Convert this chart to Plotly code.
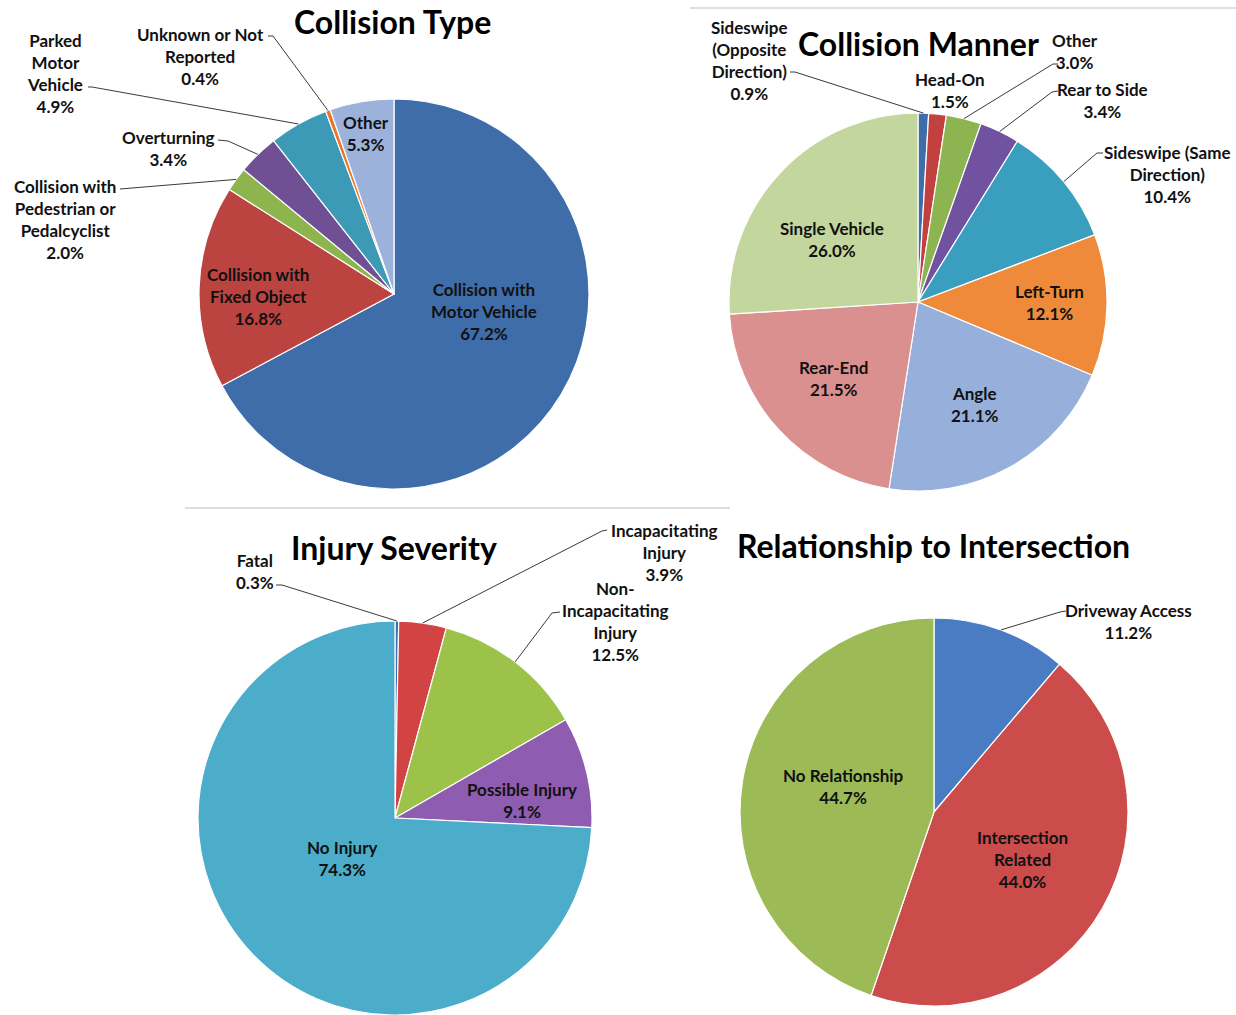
import math
import plotly.graph_objects as go

W, H = 1236, 1015

# ---------------- data ----------------
type_cats = ["Collision with Motor Vehicle", "Collision with Fixed Object",
             "Collision with Pedestrian or Pedalcyclist", "Overturning",
             "Parked Motor Vehicle", "Unknown or Not Reported", "Other"]
type_vals = [67.2, 16.8, 2.0, 3.4, 4.9, 0.4, 5.3]

manner_cats = ["Sideswipe (Opposite Direction)", "Head-On", "Other", "Rear to Side",
               "Sideswipe (Same Direction)", "Left-Turn", "Angle", "Rear-End", "Single Vehicle"]
manner_vals = [0.9, 1.5, 3.0, 3.4, 10.4, 12.1, 21.1, 21.5, 26.0]

injury_cats = ["Fatal", "Incapacitating Injury", "Non-Incapacitating Injury",
               "Possible Injury", "No Injury"]
injury_vals = [0.3, 3.9, 12.5, 9.1, 74.3]

inter_cats = ["Driveway Access", "Intersection Related", "No Relationship"]
inter_vals = [11.2, 44.0, 44.7]

titles = ["Collision Type", "Collision Manner", "Injury Severity", "Relationship to Intersection"]

# ---------------- styling / layout ----------------
FONT = "Lato"
LABEL_SIZE = 17
TITLE_SIZE = 32
colors = [
    ["#3E6DAA", "#BB4340", "#8DB44D", "#6F5095", "#3C9AB6", "#E8782F", "#9DB2DB"],
    ["#3E6DAA", "#C2413F", "#8CB451", "#7052A0", "#3A9EBE", "#EE8A3A", "#96AFDB", "#DB9090", "#C2D69D"],
    ["#3E6DAA", "#D24443", "#9DC24A", "#8E5CB0", "#4BADC9"],
    ["#4A7CC4", "#CB4C4A", "#9CBB57"],
]
# pie geometry in pixels: (cx, cy, r)
geom = [(394, 294, 195), (918, 302, 189), (395, 818, 197), (934, 812, 194)]
title_pos = [(392, 22), (918, 44), (394, 547), (933, 545)]

# label layout per slice: display text, text centre, optional leader points (text side)
label_layout = [
    [
        ("Collision with<br>Motor Vehicle", (484, 311), None),
        ("Collision with<br>Fixed Object", (258, 296), None),
        ("Collision with<br>Pedestrian or<br>Pedalcyclist", (65, 220), [(120, 189)]),
        ("Overturning", (168, 148), [(218, 140), (228, 141)]),
        ("Parked<br>Motor<br>Vehicle", (55, 73), [(88, 87), (92, 87)]),
        ("Unknown or Not<br>Reported", (200, 57), [(268, 36), (273, 36)]),
        ("Other", (366, 133), None),
    ],
    [
        ("Sideswipe<br>(Opposite<br>Direction)", (750, 61), [(790, 72), (795, 72)]),
        ("Head-On", (950, 91), None),
        ("Other", (1075, 51), [(1058, 64), (1053, 64)]),
        ("Rear to Side", (1102, 101), [(1058, 91), (1052, 92)]),
        ("Sideswipe (Same<br>Direction)", (1167, 174), [(1103, 153), (1097, 153)]),
        ("Left-Turn", (1049, 302), None),
        ("Angle", (975, 404), None),
        ("Rear-End", (833, 379), None),
        ("Single Vehicle", (832, 240), None),
    ],
    [
        ("Fatal", (255, 571), [(276, 585), (282, 585)]),
        ("Incapacitating<br>Injury", (664, 552), [(607, 530), (602, 531)]),
        ("Non-<br>Incapacitating<br>Injury", (615, 621), [(560, 612), (552, 613)]),
        ("Possible Injury", (522, 800), None),
        ("No Injury", (342, 858), None),
    ],
    [
        ("Driveway Access", (1128, 621), [(1066, 611), (1060, 612)]),
        ("Intersection<br>Related", (1022, 859), None),
        ("No Relationship", (843, 786), None),
    ],
]


def px(x):
    return x / W


def py(y):
    return 1 - y / H


datasets = [(type_cats, type_vals), (manner_cats, manner_vals),
            (injury_cats, injury_vals), (inter_cats, inter_vals)]

fig = go.Figure()
annotations = []
shapes = []

for i, (cats, vals) in enumerate(datasets):
    cx, cy, r = geom[i]
    fig.add_trace(go.Pie(
        labels=cats, values=vals, sort=False, direction="clockwise", rotation=0,
        marker=dict(colors=colors[i], line=dict(color="white", width=1.2)),
        textinfo="none", hoverinfo="label+percent", showlegend=False,
        domain=dict(x=[px(cx - r), px(cx + r)], y=[py(cy + r), py(cy - r)]),
    ))
    total = sum(vals)
    cum = 0.0
    for j, v in enumerate(vals):
        mid = (cum + v / 2) / total * 2 * math.pi
        cum += v
        text, (tx, ty), lead = label_layout[i][j]
        annotations.append(dict(
            x=px(tx), y=py(ty), xref="paper", yref="paper",
            text=f"<b>{text}<br>{v:.1f}%</b>", showarrow=False,
            xanchor="center", yanchor="middle", align="center",
            font=dict(family=FONT, size=LABEL_SIZE, color="#111111"),
        ))
        if lead:
            ex = cx + r * math.sin(mid)
            ey = cy - r * math.cos(mid)
            pts = lead + [(ex, ey)]
            path = "M " + " L ".join(f"{px(a)},{py(b)}" for a, b in pts)
            shapes.append(dict(type="path", xref="paper", yref="paper", path=path,
                               line=dict(color="#3a3a3a", width=1)))

for t, (tx, ty) in zip(titles, title_pos):
    annotations.append(dict(
        x=px(tx), y=py(ty), xref="paper", yref="paper", text=f"<b>{t}</b>",
        showarrow=False, xanchor="center", yanchor="middle",
        font=dict(family=FONT, size=TITLE_SIZE, color="#000000"),
    ))

# faint chart-area borders
shapes.append(dict(type="line", xref="paper", yref="paper", x0=px(690), x1=px(1236),
                   y0=py(8), y1=py(8), line=dict(color="#d4d4d4", width=1.5)))
shapes.append(dict(type="line", xref="paper", yref="paper", x0=px(185), x1=px(730),
                   y0=py(508), y1=py(508), line=dict(color="#d4d4d4", width=1.5)))

fig.update_layout(
    width=W, height=H, autosize=False,
    margin=dict(l=0, r=0, t=0, b=0),
    paper_bgcolor="white", plot_bgcolor="white",
    annotations=annotations, shapes=shapes,
)

fig.write_html("out.html", config={"displayModeBar": False},
               post_script="document.body.style.margin='0';document.body.style.overflow='hidden';")
